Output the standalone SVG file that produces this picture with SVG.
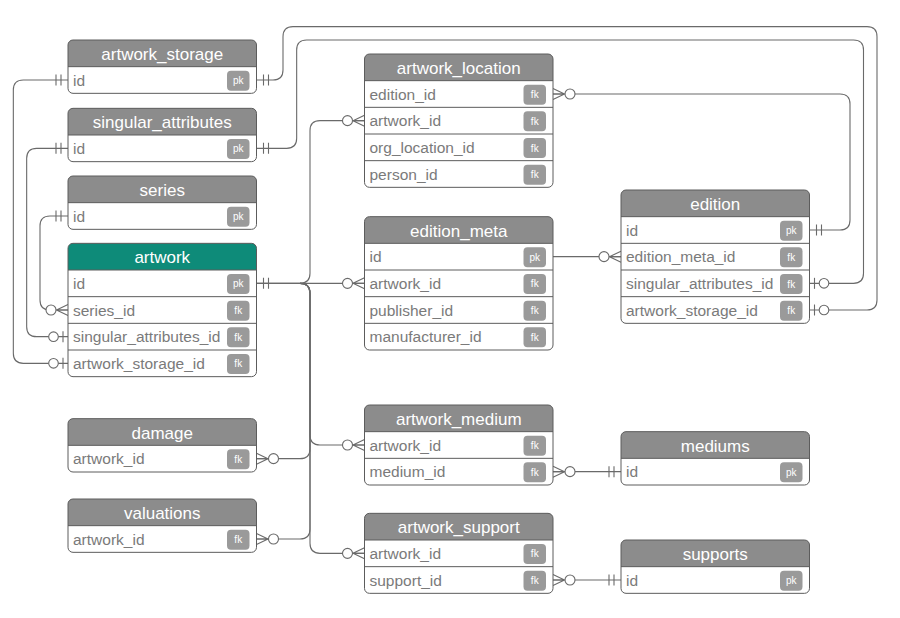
<svg xmlns="http://www.w3.org/2000/svg" xmlns:xlink="http://www.w3.org/1999/xlink" width="900" height="618" viewBox="0 0 900 618">
  <style>
    .box{fill:#fff}
    .ol{fill:none;stroke:#5c5c5c;stroke-width:1}
    .sep{fill:none;stroke:#5c5c5c;stroke-width:1}
    .hd{fill:#8c8c8c}
    .hd.main{fill:#0e8b79}
    .ht{font-family:"Liberation Sans",Arial,sans-serif;font-size:17px;fill:#fff;text-anchor:middle}
    .rt{font-family:"Liberation Sans",Arial,sans-serif;font-size:15.5px;fill:#7a7a7a}
    .bd{fill:#9a9a9a}
    .bt{font-family:"Liberation Sans",Arial,sans-serif;font-size:10px;fill:#fff;text-anchor:middle}
    .cn{fill:none;stroke:#6a6a6a;stroke-width:1.1}
    .mk path{fill:none;stroke:#6a6a6a;stroke-width:1.1}
    .mk circle{fill:#fff;stroke:#6a6a6a;stroke-width:1.1}
  </style>
  <defs>
    <!-- table header shape, width 188.5 -->
    <path id="hdr" d="M0,26.67V5A5,5 0 0 1 5,0H183.5A5,5 0 0 1 188.5,5V26.67Z"/>
    <!-- relationship ends; table edge at origin, line runs toward -x -->
    <g id="one" class="mk"><path d="M-7,-5.5V5.5M-12,-5.5V5.5"/></g>
    <g id="zone" class="mk"><path d="M-5,-5.5V5.5"/><circle cx="-14.5" cy="0" r="4.8"/></g>
    <g id="zmany" class="mk"><path d="M-11.5,0L0,-5.5M-11.5,0L0,5.5M-11.5,0H0"/><circle cx="-17" cy="0" r="5"/></g>
  </defs>

  <g id="connectors">
    <path class="cn" d="M68,80H23.33Q13.33,80 13.33,90V353.33Q13.33,363.33 23.33,363.33H68"/>
    <path class="cn" d="M68,148.33H36.67Q26.67,148.33 26.67,158.33V326.67Q26.67,336.67 36.67,336.67H68"/>
    <path class="cn" d="M68,216H50Q40,216 40,226V300Q40,310 50,310H68"/>
    <path class="cn" d="M256.5,80H273Q283,80 283,70V36.67Q283,26.67 293,26.67H867Q877,26.67 877,36.67V300Q877,310 867,310H809.5"/>
    <path class="cn" d="M256.5,148.33H286.67Q296.67,148.33 296.67,138.33V50Q296.67,40 306.67,40H853.5Q863.5,40 863.5,50V273.33Q863.5,283.33 853.5,283.33H809.5"/>
    <path class="cn" d="M809.5,230H840Q850,230 850,220V104Q850,94 840,94H553"/>
    <path class="cn" d="M256.5,283.33H300Q310,283.33 310,273.33V130.67Q310,120.67 320,120.67H364.5"/>
    <path class="cn" d="M256.5,283.33H364.5"/>
    <path class="cn" d="M300,283.33Q310,283.33 310,293.33V448.67Q310,458.67 300,458.67H256.5"/>
    <path class="cn" d="M300,283.33Q310,283.33 310,293.33V529Q310,539 300,539H256.5"/>
    <path class="cn" d="M300,283.33Q310,283.33 310,293.33V435Q310,445 320,445H364.5"/>
    <path class="cn" d="M300,283.33Q310,283.33 310,293.33V543.33Q310,553.33 320,553.33H364.5"/>
    <path class="cn" d="M553,256.67H621"/>
    <path class="cn" d="M553,471.67H621"/>
    <path class="cn" d="M553,580H621"/>

    <use xlink:href="#one" transform="translate(68,80)"/>
    <use xlink:href="#one" transform="translate(68,148.33)"/>
    <use xlink:href="#one" transform="translate(68,216)"/>
    <use xlink:href="#one" transform="translate(621,471.67)"/>
    <use xlink:href="#one" transform="translate(621,580)"/>
    <use xlink:href="#one" transform="translate(256.5,80) scale(-1,1)"/>
    <use xlink:href="#one" transform="translate(256.5,148.33) scale(-1,1)"/>
    <use xlink:href="#one" transform="translate(256.5,283.33) scale(-1,1)"/>
    <use xlink:href="#one" transform="translate(809.5,230) scale(-1,1)"/>

    <use xlink:href="#zone" transform="translate(68,363.33)"/>
    <use xlink:href="#zone" transform="translate(68,336.67)"/>
    <use xlink:href="#zone" transform="translate(809.5,310) scale(-1,1)"/>
    <use xlink:href="#zone" transform="translate(809.5,283.33) scale(-1,1)"/>

    <use xlink:href="#zmany" transform="translate(68,310)"/>
    <use xlink:href="#zmany" transform="translate(364.5,120.67)"/>
    <use xlink:href="#zmany" transform="translate(364.5,283.33)"/>
    <use xlink:href="#zmany" transform="translate(364.5,445)"/>
    <use xlink:href="#zmany" transform="translate(364.5,553.33)"/>
    <use xlink:href="#zmany" transform="translate(621,256.67)"/>
    <use xlink:href="#zmany" transform="translate(553,94) scale(-1,1)"/>
    <use xlink:href="#zmany" transform="translate(256.5,458.67) scale(-1,1)"/>
    <use xlink:href="#zmany" transform="translate(256.5,539) scale(-1,1)"/>
    <use xlink:href="#zmany" transform="translate(553,471.67) scale(-1,1)"/>
    <use xlink:href="#zmany" transform="translate(553,580) scale(-1,1)"/>
  </g>

  <g id="artwork_storage" transform="translate(68,40)">
    <rect class="box" width="188.5" height="53.33" rx="5"/>
    <use xlink:href="#hdr" class="hd"/>
    <text class="ht" x="94.25" y="20">artwork_storage</text>
    <path class="sep" d="M0,26.67H188.5"/>
    <text class="rt" x="5" y="45.67">id</text>
    <rect class="bd" x="159" y="30.67" width="22.5" height="20" rx="4"/><text class="bt" x="170.25" y="44.17">pk</text>
    <rect class="ol" width="188.5" height="53.33" rx="5"/>
  </g>

  <g id="singular_attributes" transform="translate(68,108.33)">
    <rect class="box" width="188.5" height="53.33" rx="5"/>
    <use xlink:href="#hdr" class="hd"/>
    <text class="ht" x="94.25" y="20">singular_attributes</text>
    <path class="sep" d="M0,26.67H188.5"/>
    <text class="rt" x="5" y="45.67">id</text>
    <rect class="bd" x="159" y="30.67" width="22.5" height="20" rx="4"/><text class="bt" x="170.25" y="44.17">pk</text>
    <rect class="ol" width="188.5" height="53.33" rx="5"/>
  </g>

  <g id="series" transform="translate(68,176)">
    <rect class="box" width="188.5" height="53.33" rx="5"/>
    <use xlink:href="#hdr" class="hd"/>
    <text class="ht" x="94.25" y="20">series</text>
    <path class="sep" d="M0,26.67H188.5"/>
    <text class="rt" x="5" y="45.67">id</text>
    <rect class="bd" x="159" y="30.67" width="22.5" height="20" rx="4"/><text class="bt" x="170.25" y="44.17">pk</text>
    <rect class="ol" width="188.5" height="53.33" rx="5"/>
  </g>

  <g id="artwork" transform="translate(68,243.33)">
    <rect class="box" width="188.5" height="133.33" rx="5"/>
    <use xlink:href="#hdr" class="hd main"/>
    <text class="ht" x="94.25" y="20">artwork</text>
    <path class="sep" d="M0,26.67H188.5M0,53.33H188.5M0,80H188.5M0,106.67H188.5"/>
    <text class="rt" x="5" y="45.67">id</text>
    <rect class="bd" x="159" y="30.67" width="22.5" height="20" rx="4"/><text class="bt" x="170.25" y="44.17">pk</text>
    <text class="rt" x="5" y="72.33">series_id</text>
    <rect class="bd" x="159" y="57.33" width="22.5" height="20" rx="4"/><text class="bt" x="170.25" y="70.83">fk</text>
    <text class="rt" x="5" y="99">singular_attributes_id</text>
    <rect class="bd" x="159" y="84" width="22.5" height="20" rx="4"/><text class="bt" x="170.25" y="97.5">fk</text>
    <text class="rt" x="5" y="125.67">artwork_storage_id</text>
    <rect class="bd" x="159" y="110.67" width="22.5" height="20" rx="4"/><text class="bt" x="170.25" y="124.17">fk</text>
    <rect class="ol" width="188.5" height="133.33" rx="5"/>
  </g>

  <g id="damage" transform="translate(68,418.67)">
    <rect class="box" width="188.5" height="53.33" rx="5"/>
    <use xlink:href="#hdr" class="hd"/>
    <text class="ht" x="94.25" y="20">damage</text>
    <path class="sep" d="M0,26.67H188.5"/>
    <text class="rt" x="5" y="45.67">artwork_id</text>
    <rect class="bd" x="159" y="30.67" width="22.5" height="20" rx="4"/><text class="bt" x="170.25" y="44.17">fk</text>
    <rect class="ol" width="188.5" height="53.33" rx="5"/>
  </g>

  <g id="valuations" transform="translate(68,499)">
    <rect class="box" width="188.5" height="53.33" rx="5"/>
    <use xlink:href="#hdr" class="hd"/>
    <text class="ht" x="94.25" y="20">valuations</text>
    <path class="sep" d="M0,26.67H188.5"/>
    <text class="rt" x="5" y="45.67">artwork_id</text>
    <rect class="bd" x="159" y="30.67" width="22.5" height="20" rx="4"/><text class="bt" x="170.25" y="44.17">fk</text>
    <rect class="ol" width="188.5" height="53.33" rx="5"/>
  </g>

  <g id="artwork_location" transform="translate(364.5,54)">
    <rect class="box" width="188.5" height="133.33" rx="5"/>
    <use xlink:href="#hdr" class="hd"/>
    <text class="ht" x="94.25" y="20">artwork_location</text>
    <path class="sep" d="M0,26.67H188.5M0,53.33H188.5M0,80H188.5M0,106.67H188.5"/>
    <text class="rt" x="5" y="45.67">edition_id</text>
    <rect class="bd" x="159" y="30.67" width="22.5" height="20" rx="4"/><text class="bt" x="170.25" y="44.17">fk</text>
    <text class="rt" x="5" y="72.33">artwork_id</text>
    <rect class="bd" x="159" y="57.33" width="22.5" height="20" rx="4"/><text class="bt" x="170.25" y="70.83">fk</text>
    <text class="rt" x="5" y="99">org_location_id</text>
    <rect class="bd" x="159" y="84" width="22.5" height="20" rx="4"/><text class="bt" x="170.25" y="97.5">fk</text>
    <text class="rt" x="5" y="125.67">person_id</text>
    <rect class="bd" x="159" y="110.67" width="22.5" height="20" rx="4"/><text class="bt" x="170.25" y="124.17">fk</text>
    <rect class="ol" width="188.5" height="133.33" rx="5"/>
  </g>

  <g id="edition_meta" transform="translate(364.5,216.67)">
    <rect class="box" width="188.5" height="133.33" rx="5"/>
    <use xlink:href="#hdr" class="hd"/>
    <text class="ht" x="94.25" y="20">edition_meta</text>
    <path class="sep" d="M0,26.67H188.5M0,53.33H188.5M0,80H188.5M0,106.67H188.5"/>
    <text class="rt" x="5" y="45.67">id</text>
    <rect class="bd" x="159" y="30.67" width="22.5" height="20" rx="4"/><text class="bt" x="170.25" y="44.17">pk</text>
    <text class="rt" x="5" y="72.33">artwork_id</text>
    <rect class="bd" x="159" y="57.33" width="22.5" height="20" rx="4"/><text class="bt" x="170.25" y="70.83">fk</text>
    <text class="rt" x="5" y="99">publisher_id</text>
    <rect class="bd" x="159" y="84" width="22.5" height="20" rx="4"/><text class="bt" x="170.25" y="97.5">fk</text>
    <text class="rt" x="5" y="125.67">manufacturer_id</text>
    <rect class="bd" x="159" y="110.67" width="22.5" height="20" rx="4"/><text class="bt" x="170.25" y="124.17">fk</text>
    <rect class="ol" width="188.5" height="133.33" rx="5"/>
  </g>

  <g id="artwork_medium" transform="translate(364.5,405)">
    <rect class="box" width="188.5" height="80" rx="5"/>
    <use xlink:href="#hdr" class="hd"/>
    <text class="ht" x="94.25" y="20">artwork_medium</text>
    <path class="sep" d="M0,26.67H188.5M0,53.33H188.5"/>
    <text class="rt" x="5" y="45.67">artwork_id</text>
    <rect class="bd" x="159" y="30.67" width="22.5" height="20" rx="4"/><text class="bt" x="170.25" y="44.17">fk</text>
    <text class="rt" x="5" y="72.33">medium_id</text>
    <rect class="bd" x="159" y="57.33" width="22.5" height="20" rx="4"/><text class="bt" x="170.25" y="70.83">fk</text>
    <rect class="ol" width="188.5" height="80" rx="5"/>
  </g>

  <g id="artwork_support" transform="translate(364.5,513.33)">
    <rect class="box" width="188.5" height="80" rx="5"/>
    <use xlink:href="#hdr" class="hd"/>
    <text class="ht" x="94.25" y="20">artwork_support</text>
    <path class="sep" d="M0,26.67H188.5M0,53.33H188.5"/>
    <text class="rt" x="5" y="45.67">artwork_id</text>
    <rect class="bd" x="159" y="30.67" width="22.5" height="20" rx="4"/><text class="bt" x="170.25" y="44.17">fk</text>
    <text class="rt" x="5" y="72.33">support_id</text>
    <rect class="bd" x="159" y="57.33" width="22.5" height="20" rx="4"/><text class="bt" x="170.25" y="70.83">fk</text>
    <rect class="ol" width="188.5" height="80" rx="5"/>
  </g>

  <g id="edition" transform="translate(621,190)">
    <rect class="box" width="188.5" height="133.33" rx="5"/>
    <use xlink:href="#hdr" class="hd"/>
    <text class="ht" x="94.25" y="20">edition</text>
    <path class="sep" d="M0,26.67H188.5M0,53.33H188.5M0,80H188.5M0,106.67H188.5"/>
    <text class="rt" x="5" y="45.67">id</text>
    <rect class="bd" x="159" y="30.67" width="22.5" height="20" rx="4"/><text class="bt" x="170.25" y="44.17">pk</text>
    <text class="rt" x="5" y="72.33">edition_meta_id</text>
    <rect class="bd" x="159" y="57.33" width="22.5" height="20" rx="4"/><text class="bt" x="170.25" y="70.83">fk</text>
    <text class="rt" x="5" y="99">singular_attributes_id</text>
    <rect class="bd" x="159" y="84" width="22.5" height="20" rx="4"/><text class="bt" x="170.25" y="97.5">fk</text>
    <text class="rt" x="5" y="125.67">artwork_storage_id</text>
    <rect class="bd" x="159" y="110.67" width="22.5" height="20" rx="4"/><text class="bt" x="170.25" y="124.17">fk</text>
    <rect class="ol" width="188.5" height="133.33" rx="5"/>
  </g>

  <g id="mediums" transform="translate(621,431.67)">
    <rect class="box" width="188.5" height="53.33" rx="5"/>
    <use xlink:href="#hdr" class="hd"/>
    <text class="ht" x="94.25" y="20">mediums</text>
    <path class="sep" d="M0,26.67H188.5"/>
    <text class="rt" x="5" y="45.67">id</text>
    <rect class="bd" x="159" y="30.67" width="22.5" height="20" rx="4"/><text class="bt" x="170.25" y="44.17">pk</text>
    <rect class="ol" width="188.5" height="53.33" rx="5"/>
  </g>

  <g id="supports" transform="translate(621,540)">
    <rect class="box" width="188.5" height="53.33" rx="5"/>
    <use xlink:href="#hdr" class="hd"/>
    <text class="ht" x="94.25" y="20">supports</text>
    <path class="sep" d="M0,26.67H188.5"/>
    <text class="rt" x="5" y="45.67">id</text>
    <rect class="bd" x="159" y="30.67" width="22.5" height="20" rx="4"/><text class="bt" x="170.25" y="44.17">pk</text>
    <rect class="ol" width="188.5" height="53.33" rx="5"/>
  </g>
</svg>
